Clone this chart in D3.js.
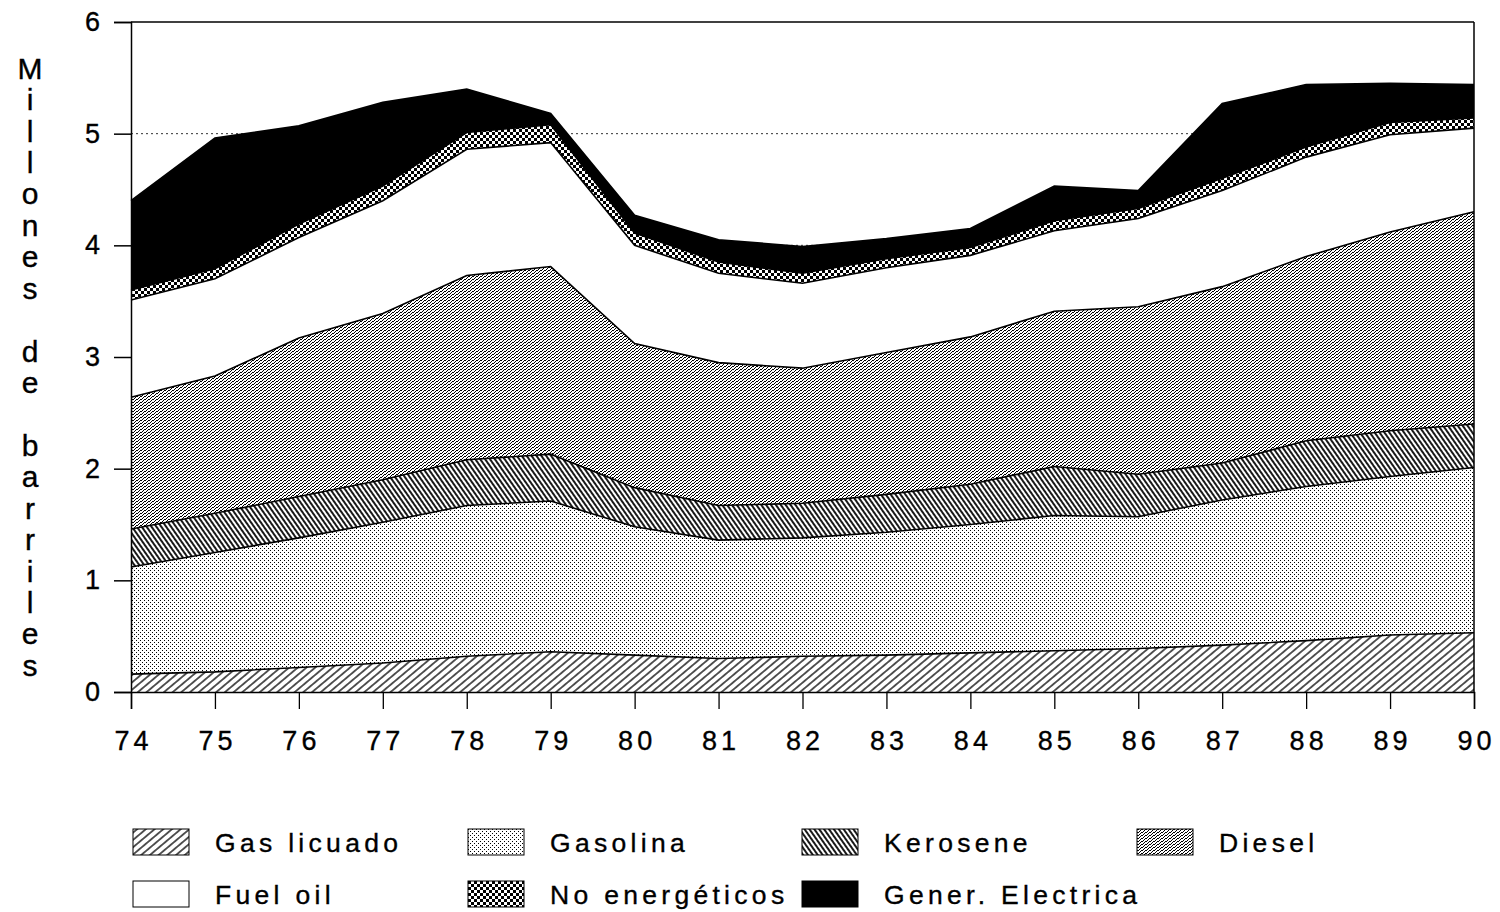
<!DOCTYPE html>
<html>
<head>
<meta charset="utf-8">
<script src="https://cdn.jsdelivr.net/npm/d3@7"></script>
<style>
  html, body { margin: 0; padding: 0; background: #fff; }
  svg { display: block; }
  text { font-family: "Liberation Sans", Arial, Helvetica, sans-serif; fill: #000; stroke: #000; stroke-width: 0.35px; }
</style>
</head>
<body>
<svg id="chart" width="1500" height="912"></svg>
<script>
// ---- data (millones de barriles) ----
const years = [74,75,76,77,78,79,80,81,82,83,84,85,86,87,88,89,90];
const gasLicuado   = [0.16,0.18,0.22,0.26,0.32,0.36,0.33,0.30,0.32,0.33,0.35,0.37,0.39,0.42,0.46,0.51,0.53];
const gasolina     = [0.96,1.07,1.16,1.26,1.35,1.35,1.15,1.06,1.06,1.10,1.15,1.21,1.18,1.30,1.38,1.42,1.48];
const kerosene     = [0.34,0.35,0.37,0.38,0.41,0.42,0.35,0.31,0.31,0.34,0.36,0.44,0.38,0.33,0.41,0.41,0.39];
const diesel       = [1.18,1.23,1.42,1.49,1.65,1.68,1.29,1.28,1.21,1.27,1.32,1.39,1.50,1.58,1.65,1.78,1.90];
const fuelOil      = [0.87,0.87,0.90,1.01,1.13,1.11,0.88,0.80,0.76,0.76,0.73,0.72,0.79,0.86,0.89,0.87,0.75];
const noEnergeticos= [0.09,0.09,0.12,0.13,0.15,0.16,0.11,0.10,0.09,0.08,0.07,0.09,0.09,0.11,0.09,0.11,0.09];
const generElectrica=[0.80,1.17,0.88,0.75,0.39,0.10,0.16,0.20,0.24,0.18,0.17,0.31,0.16,0.67,0.56,0.35,0.30];
const seriesNames = ["Gas licuado","Gasolina","Kerosene","Diesel","Fuel oil","No energéticos","Gener. Electrica"];
const seriesValues = [gasLicuado, gasolina, kerosene, diesel, fuelOil, noEnergeticos, generElectrica];
const yTicks = [0,1,2,3,4,5,6];
const yTitle = "Millones de barriles";

// ---- build table ----
const keys = seriesNames;
const table = years.map((yr, i) => {
  const row = { year: yr };
  keys.forEach((k, j) => row[k] = seriesValues[j][i]);
  return row;
});

const svg = d3.select("#chart");
const defs = svg.append("defs");

// patterns
function hatch(id, spacing, angle, sw) {
  const p = defs.append("pattern").attr("id", id)
    .attr("patternUnits", "userSpaceOnUse")
    .attr("width", spacing).attr("height", spacing)
    .attr("patternTransform", `rotate(${angle})`);
  p.append("rect").attr("width", spacing).attr("height", spacing).attr("fill", "#fff");
  p.append("line").attr("x1", spacing/2).attr("x2", spacing/2).attr("y1", 0).attr("y2", spacing)
    .attr("stroke", "#000").attr("stroke-width", sw);
}
hatch("pGL", 5.6, 50, 1.3);
hatch("pKE", 4.0, -35, 1.8);

function dots(id, w, h, pts) {
  const p = defs.append("pattern").attr("id", id)
    .attr("patternUnits", "userSpaceOnUse").attr("width", w).attr("height", h);
  p.append("rect").attr("width", w).attr("height", h).attr("fill", "#fff");
  pts.forEach(([x, y, ww, hh]) => p.append("rect").attr("x", x).attr("y", y)
    .attr("width", ww || 1).attr("height", hh || 1).attr("fill", "#000"));
}
dots("pGA", 4, 4, [[0,0],[2,2]]);
dots("pDI", 4, 3, [[0,0,2,1],[2,2,1,1],[3,1,1,1]]);
dots("pNE", 6, 6, [[0,0,3,3],[3,3,3,3]]);

const fills = ["url(#pGL)","url(#pGA)","url(#pKE)","url(#pDI)","#fff","url(#pNE)","#000"];

// scales
const x = d3.scaleLinear().domain([74, 90]).range([131, 1474]);
const y = d3.scaleLinear().domain([0, 6]).range([692, 22]);

// grid (behind)
svg.append("g").selectAll("line").data([1,2,3,4,5]).join("line")
  .attr("x1", x(74)).attr("x2", x(90))
  .attr("y1", d => y(d)).attr("y2", d => y(d))
  .attr("stroke", "#333").attr("stroke-width", 1).attr("stroke-dasharray", "2,3");

// stack
const stack = d3.stack().keys(keys);
const layers = stack(table);

const area = d3.area().x(d => x(d.data.year)).y0(d => y(d[0])).y1(d => y(d[1]));
const line = d3.line().x(d => x(d.data.year)).y(d => y(d[1]));

svg.append("g").selectAll("path").data(layers).join("path")
  .attr("d", area).attr("fill", (d, i) => fills[i]).attr("stroke", "none");
svg.append("g").selectAll("path").data(layers).join("path")
  .attr("d", line).attr("fill", "none").attr("stroke", "#000").attr("stroke-width", 1.6);

// frame
svg.append("line").attr("x1", x(74)).attr("x2", x(90)).attr("y1", y(6)).attr("y2", y(6))
  .attr("stroke", "#000").attr("stroke-width", 1.5);
svg.append("line").attr("x1", x(90)).attr("x2", x(90)).attr("y1", y(6)).attr("y2", y(0))
  .attr("stroke", "#000").attr("stroke-width", 1.5);

// axes
const ls = 4;
const yAxis = svg.append("g").attr("transform", `translate(${x(74)},0)`)
  .call(d3.axisLeft(y).tickValues(yTicks).tickFormat(d3.format("d")).tickSize(17).tickPadding(14));
yAxis.select(".domain").attr("stroke", "#000").attr("stroke-width", 1.5);
yAxis.selectAll(".tick line").attr("stroke", "#000").attr("stroke-width", 1.5);
yAxis.selectAll(".tick text").attr("font-size", 27).attr("fill", "#000")
  .style("font-family", '"Liberation Sans", Arial, sans-serif');

const xAxis = svg.append("g").attr("transform", `translate(0,${y(0)})`)
  .call(d3.axisBottom(x).tickValues(years).tickFormat(d3.format("d")).tickSize(17));
xAxis.select(".domain").attr("stroke", "#000").attr("stroke-width", 1.5);
xAxis.selectAll(".tick line").attr("stroke", "#000").attr("stroke-width", 1.3);
xAxis.selectAll(".tick text").attr("font-size", 27).attr("fill", "#000")
  .attr("y", 58).attr("dy", 0).attr("dx", ls/2)
  .style("letter-spacing", ls + "px")
  .style("font-family", '"Liberation Sans", Arial, sans-serif');

// y title: vertical stacked letters
const chars = Array.from(yTitle);
const step = (665 - 68) / (chars.length - 1);
svg.append("g").selectAll("text").data(chars).join("text")
  .attr("x", 30).attr("y", (d, i) => 68 + i * step).attr("dy", "0.36em")
  .attr("text-anchor", "middle").attr("font-size", 30)
  .text(d => d);

// legend
const legendPos = [
  [133, 829], [468, 829], [802, 829], [1137, 829],
  [133, 881], [468, 881], [802, 881]
];
const lg = svg.append("g").selectAll("g").data(seriesNames).join("g")
  .attr("transform", (d, i) => `translate(${legendPos[i][0]},${legendPos[i][1]})`);
lg.append("rect").attr("width", 56).attr("height", 26)
  .attr("fill", (d, i) => fills[i]).attr("stroke", "#000").attr("stroke-width", 1);
lg.append("text").attr("x", 82).attr("y", 23).attr("font-size", 26.5)
  .style("letter-spacing", "4.3px").text(d => d);
</script>
</body>
</html>
